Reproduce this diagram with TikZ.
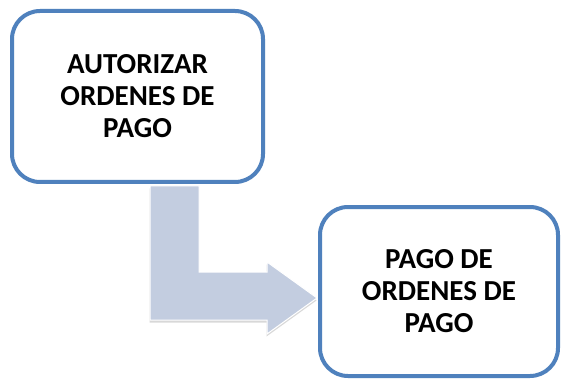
\documentclass[tikz,border=0pt]{standalone}
\usepackage{fontspec}
\setmainfont{Carlito}
\usetikzlibrary{shadows}
\definecolor{boxblue}{RGB}{79,129,189}
\definecolor{arrowfill}{RGB}{195,205,224}
\tikzset{
  stepbox/.style={draw=boxblue, line width=4pt, rounded corners=28pt, fill=white,
    align=center, inner sep=0pt, font=\bfseries\fontsize{29}{32}\selectfont},
  bentarrow/.style={fill=arrowfill, draw=white, line width=1pt,
    drop shadow={shadow xshift=-0.5pt, shadow yshift=-2.5pt, opacity=0.3}}
}
\begin{document}
\begin{tikzpicture}[x=1pt,y=-1pt]
			%%%%% START %%%%%
			\useasboundingbox[fill=white] (0, 0) rectangle (567, 382);
			
			% bent arrow
			\draw[bentarrow] (150, 186) -- (199, 186) -- (199, 272) -- (267, 272) -- (267, 262)
			  -- (317, 298) -- (267, 334) -- (267, 320) -- (150, 320) -- cycle;
			
			% steps
			\node[stepbox, minimum width=251pt, minimum height=171pt] (autorizar) at (137.5, 96.5)
			  {AUTORIZAR\\ORDENES DE\\PAGO};
			\node[stepbox, minimum width=238pt, minimum height=169pt] (pago) at (439, 291.5)
			  {PAGO DE\\ORDENES DE\\PAGO};
			
			%%%%% END %%%%%
\end{tikzpicture}
\end{document}
